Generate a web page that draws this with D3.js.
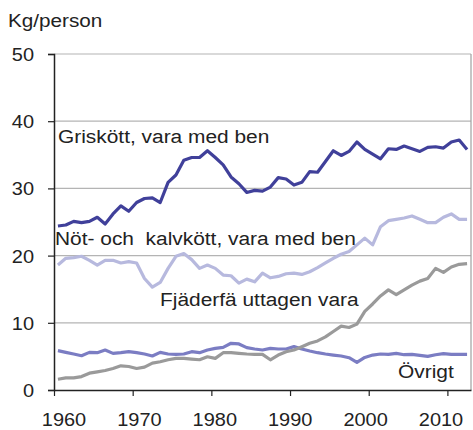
<!DOCTYPE html>
<html>
<head>
  <meta charset="utf-8">
  <script src="https://d3js.org/d3.v7.min.js"></script>
  <style>
    body { margin: 0; background: white; }
    svg { font-family: "Liberation Sans", Arial, sans-serif; }
  </style>
</head>
<body>
<svg id="chart" width="473" height="430"></svg>
<script>
  // one value per year, 1960-2012
  var firstYear = 1960;
  var pork = [24.4, 24.55, 25.1, 24.9, 25.1, 25.7, 24.7, 26.2, 27.4, 26.6,
    27.9, 28.5, 28.6, 27.9, 30.9, 32.0, 34.2, 34.6, 34.6, 35.6,
    34.6, 33.5, 31.7, 30.7, 29.4, 29.7, 29.6, 30.2, 31.6, 31.4,
    30.5, 30.9, 32.5, 32.4, 34.0, 35.6, 34.9, 35.5, 36.9, 35.8,
    35.1, 34.4, 35.9, 35.8, 36.3, 35.9, 35.5, 36.1, 36.2, 36.0,
    36.9, 37.2, 35.8];
  var beef = [18.6, 19.6, 19.7, 19.9, 19.3, 18.6, 19.3, 19.3, 18.9, 19.1,
    18.9, 16.6, 15.3, 16.0, 18.1, 19.9, 20.3, 19.4, 18.1, 18.6,
    18.1, 17.1, 17.0, 15.9, 16.5, 16.1, 17.4, 16.7, 16.9, 17.3,
    17.4, 17.2, 17.6, 18.2, 18.9, 19.6, 20.2, 20.6, 21.6, 22.6,
    21.6, 24.3, 25.2, 25.4, 25.6, 25.9, 25.4, 24.9, 24.9, 25.7,
    26.2, 25.4, 25.4];
  var poultry = [1.6, 1.8, 1.8, 2.0, 2.5, 2.7, 2.9, 3.2, 3.6, 3.5,
    3.2, 3.4, 4.0, 4.2, 4.5, 4.7, 4.7, 4.6, 4.5, 4.95,
    4.7, 5.55, 5.55, 5.45, 5.36, 5.3, 5.3, 4.5, 5.2, 5.7,
    5.95, 6.45, 6.95, 7.3, 7.9, 8.7, 9.5, 9.3, 9.8, 11.7,
    12.8, 14.0, 14.9, 14.2, 14.9, 15.6, 16.2, 16.6, 18.1, 17.5,
    18.3, 18.7, 18.8];
  var other = [5.85, 5.6, 5.36, 5.1, 5.6, 5.55, 5.95, 5.45, 5.55, 5.7,
    5.55, 5.36, 5.06, 5.6, 5.36, 5.3, 5.36, 5.7, 5.55, 5.95,
    6.2, 6.35, 6.95, 6.85, 6.3, 6.1, 5.95, 6.2, 6.1, 6.1,
    6.45, 6.1, 5.8, 5.55, 5.36, 5.2, 5.06, 4.8, 4.1, 4.85,
    5.2, 5.36, 5.3, 5.45, 5.25, 5.3, 5.16, 5.0, 5.25, 5.4,
    5.3, 5.3, 5.3];
  var yTicks = [0, 10, 20, 30, 40, 50];
  var xTicks = [1960, 1970, 1980, 1990, 2000, 2010];

  var series = [
    { name: "Övrigt", values: other, color: "#7b7dc3", lx: 398, ly: 378 },
    { name: "Fjäderfä uttagen vara", values: poultry, color: "#9a9a9a", lx: 160, ly: 306 },
    { name: "Nöt- och\u00a0 kalvkött, vara med ben", values: beef, color: "#b7b9de", lx: 55, ly: 245 },
    { name: "Griskött, vara med ben", values: pork, color: "#40409a", lx: 58, ly: 143 }
  ];

  var svg = d3.select("#chart");
  var mLeft = 54, mRight = 471, mTop = 54, mBottom = 390;

  var x = d3.scaleLinear([1960, 2013], [mLeft, mRight]);
  var y = d3.scaleLinear([0, 50], [mBottom, mTop]);
  // year labels sit a little off their ticks in the original
  var xLab = d3.scaleLinear([1960, 2010], [64, 441]);

  // gridlines
  svg.append("g").selectAll("line")
    .data(yTicks.filter(d => d > 0))
    .join("line")
    .attr("x1", mLeft).attr("x2", mRight)
    .attr("y1", d => y(d)).attr("y2", d => y(d))
    .attr("stroke", "#b4b4b4").attr("stroke-width", 1.2);

  svg.append("line")
    .attr("x1", mRight).attr("x2", mRight)
    .attr("y1", mTop).attr("y2", mBottom)
    .attr("stroke", "#a0a0a0").attr("stroke-width", 1.2);

  // y axis
  var yAxis = svg.append("g")
    .attr("transform", `translate(${mLeft},0)`)
    .call(d3.axisLeft(y).tickValues(yTicks).tickSize(6).tickFormat(""));
  yAxis.select(".domain").attr("stroke", "#222").attr("stroke-width", 1.5);
  yAxis.selectAll(".tick line").attr("stroke", "#222").attr("stroke-width", 1.2);

  svg.append("g").selectAll("text")
    .data(yTicks)
    .join("text")
    .attr("transform", d => `translate(34,${y(d) + 7}) scale(1.05,1)`)
    .attr("text-anchor", "end")
    .attr("font-size", 19)
    .attr("fill", "#222")
    .text(d => d);

  // x axis
  var xAxis = svg.append("g")
    .attr("transform", `translate(0,${mBottom})`)
    .call(d3.axisBottom(x).tickValues(xTicks).tickSize(6).tickSizeOuter(0).tickFormat(""));
  xAxis.select(".domain").attr("stroke", "#222").attr("stroke-width", 1.5);
  xAxis.selectAll(".tick line").attr("stroke", "#222").attr("stroke-width", 1.2);

  svg.append("g").selectAll("text")
    .data(xTicks)
    .join("text")
    .attr("transform", d => `translate(${xLab(d)},426) scale(1.05,1)`)
    .attr("text-anchor", "middle")
    .attr("font-size", 19)
    .attr("fill", "#222")
    .text(d => d);

  // lines
  var line = d3.line()
    .x((d, i) => x(firstYear + i + 0.5))
    .y(d => y(d));

  svg.append("g").selectAll("path")
    .data(series)
    .join("path")
    .attr("d", d => line(d.values))
    .attr("fill", "none")
    .attr("stroke", d => d.color)
    .attr("stroke-width", 3.2)
    .attr("stroke-linejoin", "round");

  // series labels
  svg.append("g").selectAll("text")
    .data(series)
    .join("text")
    .attr("transform", d => `translate(${d.lx},${d.ly}) scale(1.1,1)`)
    .attr("font-size", 19)
    .attr("fill", "#222")
    .text(d => d.name);

  svg.append("text")
    .attr("transform", "translate(8,27) scale(1.12,1)")
    .attr("font-size", 18.5)
    .attr("fill", "#222")
    .text("Kg/person");
</script>
</body>
</html>
